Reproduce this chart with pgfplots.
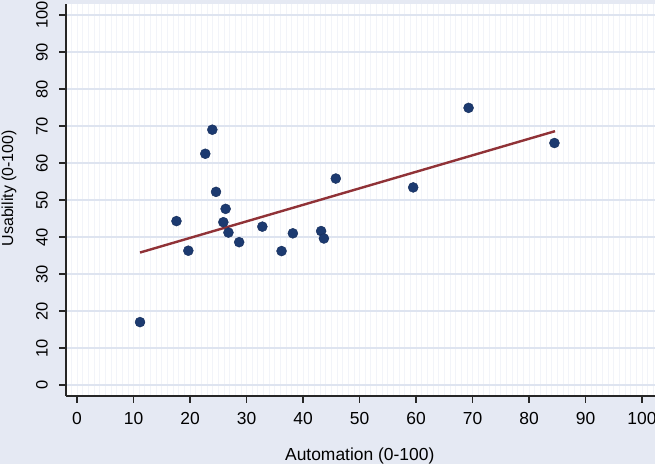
\documentclass[border=0pt]{standalone}
\usepackage{pgfplots}
\pgfplotsset{compat=1.18}
\usepackage{fontspec}
\setmainfont{Liberation Sans}
\definecolor{bgc}{RGB}{229,233,243}
\definecolor{gridc}{RGB}{222,228,240}
\definecolor{minorgc}{RGB}{242,244,249}
\definecolor{navyc}{RGB}{28,58,112}
\definecolor{maroonc}{RGB}{144,50,55}
\begin{document}
\begin{tikzpicture}[x=1bp,y=1bp]
\path[use as bounding box, fill=bgc] (0,0) rectangle (655,464);
\clip (0,0) rectangle (655,464);
\begin{axis}[
  at={(66bp,68bp)}, anchor=south west,
  x=5.65bp, y=3.7bp,
  xmin=-1.95, xmax=104, ymin=-2.97, ymax=103,
  axis background/.style={fill=white},
  axis x line*=bottom, axis y line*=left,
  axis line style={line width=1.7bp, black!85},
  xtick={0,10,...,100}, ytick={0,10,...,100},
  minor xtick={-1,0,...,104},
  xminorgrids, ymajorgrids,
  major grid style={gridc, line width=1.6bp},
  minor grid style={minorgc, line width=0.7bp},
  tick align=outside, major tick length=7bp, minor tick length=0bp,
  tick style={line width=1.2bp, black!85},
  /pgf/number format/assume math mode=true,
  xticklabel style={font=\fontsize{17.5}{17.5}\selectfont, inner sep=0pt, anchor=north, yshift=-9.5bp},
  yticklabel style={font=\fontsize{16.5}{16.5}\selectfont, rotate=90, inner sep=0pt, anchor=south, yshift=11bp},
  xlabel={Automation (0-100)},
  ylabel={Usability (0-100)},
  xlabel style={font=\fontsize{17.5}{17.5}\selectfont, at={(axis description cs:0.4907,0)}, anchor=center, yshift=-59.5bp},
  ylabel style={font=\fontsize{16}{16}\selectfont, at={(axis description cs:0,0.530)}, anchor=center, yshift=57bp},
  clip=false,
]
\addplot[only marks, mark=*, mark size=5bp, mark options={fill=navyc, draw=navyc!80!black, line width=0.4bp}] coordinates {
(11.15,17.0) (17.6,44.3) (19.7,36.3) (22.7,62.5) (23.95,69.0) (24.6,52.2)
(25.9,44.0) (26.3,47.6) (26.8,41.2) (28.7,38.6) (32.8,42.8) (36.2,36.2)
(38.2,41.0) (43.2,41.6) (43.7,39.6) (45.8,55.8) (59.5,53.4) (69.3,74.9) (84.5,65.4)
};
\addplot[maroonc, line width=2.4bp] coordinates {(11.15,35.8) (84.6,68.6)};
\end{axis}
\end{tikzpicture}
\end{document}
